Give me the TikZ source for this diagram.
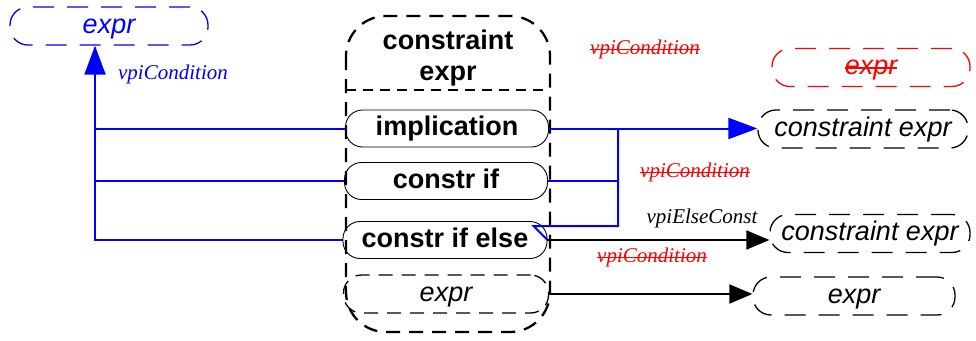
\documentclass[tikz,border=0pt]{standalone}
\usepackage{fontspec}
\setmainfont{Liberation Serif}
\setsansfont{Liberation Sans}
\usetikzlibrary{positioning,arrows.meta}
\newcommand\strikeout[1]{\setbox0\hbox{#1}\rlap{\rule[0.4ex]{\wd0}{0.055em}}\box0}

\begin{document}
\begin{tikzpicture}[x=1pt,y=-1pt,
    objbox/.style={draw,line width=0.9pt,rounded corners=17pt,minimum width=203pt,minimum height=37pt,inner sep=0pt,text height=19pt,text depth=5pt,font=\fontsize{27}{31}\selectfont\sffamily\bfseries},
    refbox/.style={draw,line width=1.3pt,dash pattern=on 21pt off 13pt,rounded corners=18pt,minimum height=38pt,inner sep=0pt,text height=19pt,text depth=5pt,font=\fontsize{27}{31}\selectfont\sffamily\itshape},
    rel/.style={font=\fontsize{21}{24}\selectfont\itshape},
    gone/.style={rel,text=red},
    blueline/.style={draw=blue,line width=2pt},
    bluearrow/.style={blueline,-{Triangle[length=29pt,width=21pt]}},
    blackarrow/.style={line width=2pt,-{Triangle[length=23pt,width=19pt]}}]
                \useasboundingbox (0,0) rectangle (976,340);

                % Container
                \draw[line width=2.3pt,dash pattern=on 14pt off 9pt,rounded corners=40pt] (346,16) rectangle (550,332);
                \draw[line width=1.6pt,dash pattern=on 10pt off 7pt] (346,90) -- (550,90);
                \node[font=\fontsize{27}{31}\selectfont\sffamily\bfseries,align=center] (title) at (448,58) {constraint\\expr};

                % Members
                \node[objbox] (impl) at (447,128.5) {implication};
                \node[objbox] (cif) at (446,181) {constr if};
                \node[objbox,minimum width=204pt] (cie) at (445,240) {constr if else};
                \node[refbox,minimum width=205pt,dash pattern=on 14pt off 9pt] (inexpr) at (446,294) {\fontseries{m}\selectfont expr};

                % Targets
                \node[refbox,blue,minimum width=198pt] (topexpr) at (109,26) {expr};
                \node[refbox,red,minimum width=198pt] (redexpr) at (871,67.5) {\strikeout{expr}};
                \node[refbox,minimum width=210pt] (cx1) at (863,129) {constraint expr};
                \node[refbox,minimum width=200pt] (cx2) at (870,233.5) {constraint expr};
                \node[refbox,minimum width=202pt] (ex3) at (854,296) {expr};

                % Left relation
                \coordinate (lbus) at (95,240);
                \draw[bluearrow] (cie.west) -- (lbus) -- (lbus |- topexpr.south);
                \draw[blueline] (impl.west) -- (impl.west -| lbus);
                \draw[blueline] (cif.west) -- (cif.west -| lbus);
                \node[rel,text=blue] (lcond) at (173,74) {vpiCondition};

                % Right relations
                \coordinate (rbus) at (618,226);
                \draw[bluearrow] (impl.east) -- (impl.east -| cx1.west);
                \draw[blueline] (cie.east) -- ++(-14,-14) -- (rbus) -- (rbus |- impl.east);
                \draw[blueline] (cif.east) -- (cif.east -| rbus);
                \draw[blackarrow] (cie.east) -- (cie.east -| cx2.west);
                \draw[blackarrow] (inexpr.east) -- (inexpr.east -| ex3.west);

                % Labels
                \node[gone] (cond1) at (645,49) {\strikeout{vpiCondition}};
                \node[gone] (cond2) at (695,172) {\strikeout{vpiCondition}};
                \node[gone] (cond3) at (652,257) {\strikeout{vpiCondition}};
                \node[rel] (elsec) at (702,218) {vpiElseConst};
            \end{tikzpicture}
\end{document}
